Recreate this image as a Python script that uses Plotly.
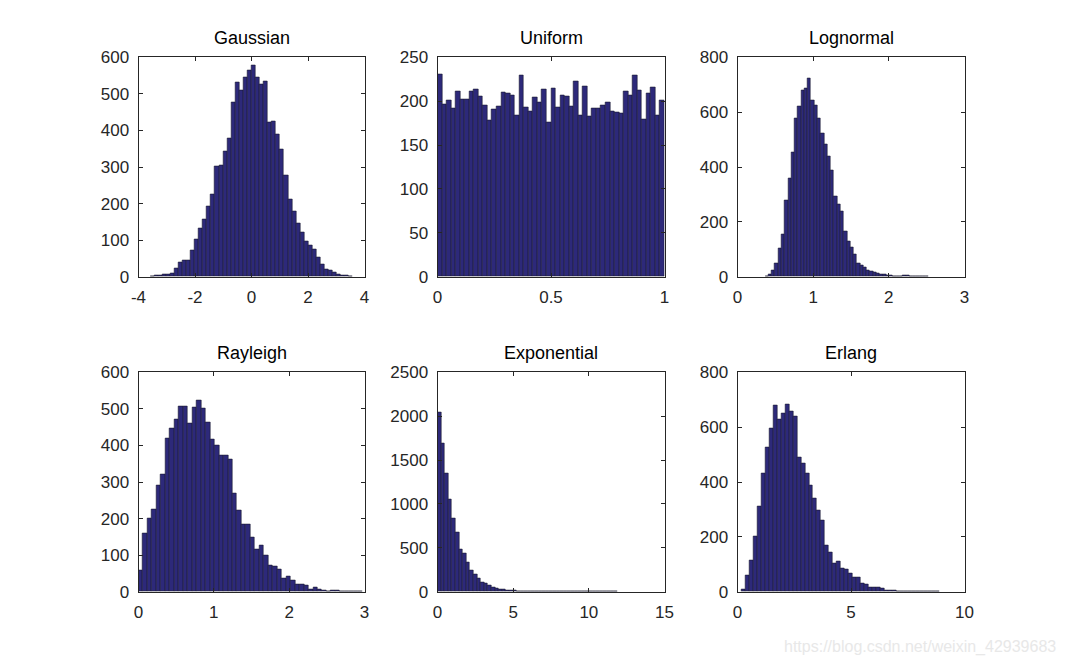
import numpy as np
import plotly.graph_objects as go

# ---- data (50-bin histograms) ----
titles = ["Gaussian", "Uniform", "Lognormal", "Rayleigh", "Exponential", "Erlang"]

gaussian_counts = [2, 3, 4, 6, 6, 9, 24, 38, 45, 44, 71, 101, 132, 158, 192, 226,
                   302, 304, 342, 378, 478, 532, 510, 545, 565, 578, 545, 525, 535,
                   422, 425, 390, 348, 277, 212, 180, 147, 120, 98, 87, 74, 53, 33,
                   20, 16, 12, 5, 3, 3, 2]
gaussian_range = [-3.59, 3.59]

uniform_counts = [231, 196, 201, 192, 211, 202, 202, 211, 214, 205, 195, 178, 191,
                  194, 210, 209, 207, 184, 229, 193, 189, 204, 199, 213, 176, 215,
                  193, 207, 205, 194, 223, 184, 217, 183, 192, 192, 195, 199, 188,
                  187, 186, 211, 207, 229, 212, 179, 209, 216, 184, 201]
uniform_range = [0.0, 1.0]

lognormal_counts = [2, 8, 24, 48, 105, 153, 280, 360, 452, 578, 622, 680, 688, 722,
                    643, 625, 576, 524, 484, 440, 388, 294, 263, 238, 165, 130, 106,
                    80, 47, 40, 35, 24, 19, 15, 13, 8, 8, 6, 4, 2, 2, 2, 4, 5, 1, 1,
                    1, 1, 1, 1]
lognormal_range = [0.365, 2.53]

rayleigh_counts = [58, 160, 200, 226, 292, 321, 420, 446, 471, 508, 506, 461, 503,
                   523, 501, 462, 417, 401, 372, 373, 363, 268, 222, 185, 183, 148,
                   117, 126, 99, 71, 70, 60, 36, 43, 32, 21, 19, 17, 7, 11, 5, 4, 2,
                   3, 4, 1, 1, 1, 1, 1]
rayleigh_range = [0.0, 2.97]

exponential_counts = [2046, 1695, 1344, 1049, 835, 672, 480, 432, 332, 240, 203, 148,
                      107, 92, 70, 52, 41, 30, 22, 18, 14, 10, 8, 6, 5, 4, 3, 2, 2,
                      1, 1, 1, 0, 1, 0, 1, 0, 0, 1, 0, 0, 0, 0, 0, 0, 0, 0, 0, 0, 1]
exponential_range = [0.0, 11.88]

erlang_counts = [8, 59, 115, 200, 312, 430, 526, 597, 678, 630, 651, 682, 657, 641,
                 490, 467, 430, 389, 342, 298, 260, 168, 144, 105, 109, 84, 83, 67,
                 52, 52, 30, 26, 17, 14, 17, 12, 5, 6, 6, 3, 2, 2, 1, 1, 1, 1, 2, 1,
                 1, 1]
erlang_range = [0.19, 8.9]

x_ranges = [[-4, 4], [0, 1], [0, 3], [0, 3], [0, 15], [0, 10]]
x_ticks = [[-4, -2, 0, 2, 4], [0, 0.5, 1], [0, 1, 2, 3], [0, 1, 2, 3],
           [0, 5, 10, 15], [0, 5, 10]]
x_ticktext = [["-4", "-2", "0", "2", "4"], ["0", "0.5", "1"], ["0", "1", "2", "3"],
              ["0", "1", "2", "3"], ["0", "5", "10", "15"], ["0", "5", "10"]]
y_ranges = [[0, 600], [0, 250], [0, 800], [0, 600], [0, 2500], [0, 800]]
y_dticks = [100, 50, 200, 100, 500, 200]

series = [(gaussian_counts, gaussian_range), (uniform_counts, uniform_range),
          (lognormal_counts, lognormal_range), (rayleigh_counts, rayleigh_range),
          (exponential_counts, exponential_range), (erlang_counts, erlang_range)]

# ---- layout ----
W, H = 1067, 666
# empirical mapping of the rendered page: px = OFF + frac * (size - SHRINK)
OFF, SHRINK = 16.5, 17.0
col_px = [(139, 365), (438, 665), (738, 965)]
row_px = [(57, 277), (373, 593)]


def fx(p):
    return (p - OFF) / (W - SHRINK)


def fy(p):
    return 1 - (p - OFF) / (H - SHRINK)


FONT = "Liberation Sans, Arial, Helvetica, sans-serif"
fig = go.Figure()
axis_font = dict(family=FONT, size=17, color="#262626")
layout = dict(width=W, height=H, margin=dict(l=0, r=0, t=0, b=0),
              paper_bgcolor="white", plot_bgcolor="white", showlegend=False,
              bargap=0, annotations=[])

for i, (counts, rng) in enumerate(series):
    r, c = divmod(i, 3)
    n = len(counts)
    edges = np.linspace(rng[0], rng[1], n + 1)
    centers = (edges[:-1] + edges[1:]) / 2
    w = edges[1] - edges[0]
    sfx = "" if i == 0 else str(i + 1)
    fig.add_trace(go.Bar(x=centers, y=counts, width=w,
                         marker=dict(color="rgb(45,41,122)",
                                     line=dict(color="rgb(25,25,45)", width=0.6)),
                         xaxis="x" + sfx, yaxis="y" + sfx, hoverinfo="x+y"))
    x0, x1 = col_px[c]
    y0, y1 = row_px[r]
    xd = [fx(x0), fx(x1)]
    yd = [fy(y1), fy(y0)]
    common = dict(showline=True, linecolor="#262626", linewidth=1, mirror="ticks",
                  ticks="inside", ticklen=4, tickcolor="#262626", showgrid=False,
                  zeroline=False, tickfont=axis_font, fixedrange=True)
    layout["xaxis" + sfx] = dict(domain=xd, range=x_ranges[i], tickvals=x_ticks[i],
                                 ticktext=x_ticktext[i], ticklabelstandoff=5,
                                 anchor="y" + sfx, **common)
    layout["yaxis" + sfx] = dict(domain=yd, range=y_ranges[i], dtick=y_dticks[i],
                                 tick0=0, ticklabelstandoff=5, anchor="x" + sfx,
                                 **common)
    layout["annotations"].append(dict(
        text=titles[i], xref="paper", yref="paper", x=(xd[0] + xd[1]) / 2, y=yd[1],
        xanchor="center", yanchor="bottom", yshift=7, showarrow=False,
        font=dict(family=FONT, size=18, color="#000000")))

layout["annotations"].append(dict(
    text="https://blog.csdn.net/weixin_42939683", xref="paper", yref="paper",
    x=fx(1058), y=fy(648), xanchor="right", yanchor="middle", showarrow=False,
    font=dict(family=FONT, size=16, color="#e8e8e8")))

fig.update_layout(**layout)
fig.write_html("out.html")
